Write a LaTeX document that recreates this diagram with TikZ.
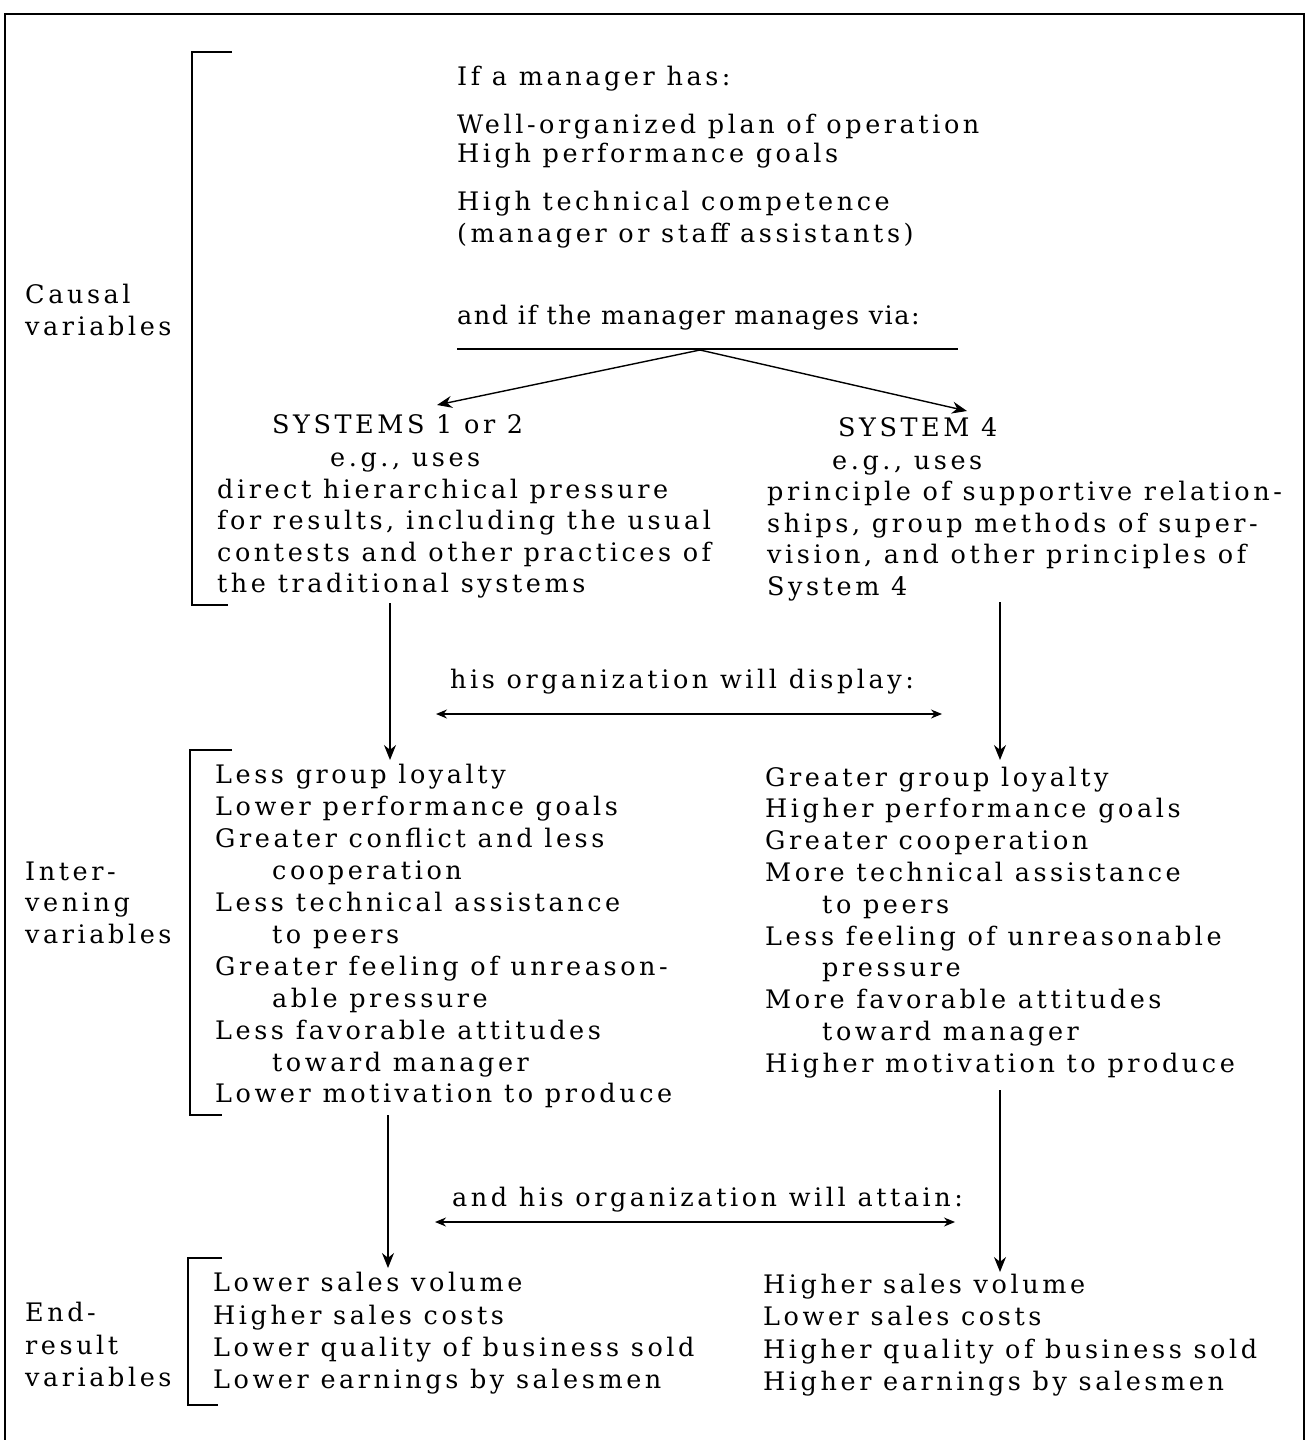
\documentclass[tikz,border=0pt]{standalone}
\usepackage{fontspec}
\setmainfont[LetterSpace=14]{DejaVu Serif}
\usetikzlibrary{arrows.meta}
\begin{document}
\begin{tikzpicture}[x=1pt,y=-1pt,
  txt/.style={anchor=base west,inner sep=0pt,font=\fontsize{25.5}{30}\selectfont},
  frame/.style={line width=1.8pt},
  brk/.style={line width=2pt},
  conn/.style={line width=1.4pt,-{Stealth[length=15pt,width=12pt]}},
  dbl/.style={line width=1.2pt,{Stealth[length=11pt,width=9pt]}-{Stealth[length=11pt,width=9pt]}}]
\useasboundingbox (0,0) rectangle (1309,1440);
% frame
\draw[frame] (5,1440) -- (5,14) -- (1304,14) -- (1304,1440);
% brackets
\draw[brk] (232,52) -- (192,52) -- (192,605) -- (228,605);
\draw[brk] (232,750) -- (190,750) -- (190,1115) -- (222,1115);
\draw[brk] (222,1258) -- (188,1258) -- (188,1405) -- (218,1405);
% labels
\node[txt] (lc1) at (25,303) {Causal};
\node[txt] (lc2) at (25,335) {variables};
\node[txt] (li1) at (25,880) {Inter-};
\node[txt] (li2) at (25,911) {vening};
\node[txt] (li3) at (25,943) {variables};
\node[txt] (le1) at (25,1321) {End-};
\node[txt] (le2) at (25,1354) {result};
\node[txt] (le3) at (25,1386) {variables};
% top block
\node[txt] (t1) at (457,85) {If a manager has:};
\node[txt] (t2) at (457,133) {Well-organized plan of operation};
\node[txt] (t3) at (457,162) {High performance goals};
\node[txt] (t4) at (457,210) {High technical competence};
\node[txt] (t5) at (457,242) {(manager or staff assistants)};
\node[txt] (t6) at (457,324) {\addfontfeature{LetterSpace=6}and if the manager manages via:};
\coordinate (la) at (457,349);
\coordinate (lb) at (958,349);
\coordinate (lc) at (700,350);
\draw[line width=1.3pt] (la) -- (lb);
% systems headers
\node[txt] (s12) at (272,433) {SYSTEMS 1 or 2};
\node[txt] (s12e) at (330,466) {e.g., uses};
\node[txt] (s12a) at (217,498) {direct hierarchical pressure};
\node[txt] (s12b) at (217,529) {for results, including the usual};
\node[txt] (s12c) at (217,561) {contests and other practices of};
\node[txt] (s12d) at (217,592) {the traditional systems};
\node[txt] (s4) at (838,436) {SYSTEM 4};
\node[txt] (s4e) at (832,469) {e.g., uses};
\node[txt] (s4a) at (767,500) {principle of supportive relation-};
\node[txt] (s4b) at (767,532) {ships, group methods of super-};
\node[txt] (s4c) at (767,563) {vision, and other principles of};
\node[txt] (s4d) at (767,595) {System 4};
\coordinate (aL) at (437,405);
\coordinate (aR) at (967,411);
\draw[conn] (lc) -- (aL);
\draw[conn] (lc) -- (aR);
% display
\node[txt] (disp) at (450,688) {his organization will display:};
\coordinate (d1) at (436,714);
\coordinate (d2) at (942,714);
\draw[dbl] (d1) -- (d2);
\coordinate (v1a) at (390,603);
\coordinate (v1b) at (390,760);
\coordinate (v2a) at (1000,602);
\coordinate (v2b) at (1000,760);
\draw[conn] (v1a) -- (v1b);
\draw[conn] (v2a) -- (v2b);
% intervening left
\node[txt] (il1) at (215,783) {Less group loyalty};
\node[txt] (il2) at (215,815) {Lower performance goals};
\node[txt] (il3) at (215,847) {Greater conflict and less};
\node[txt] (il4) at (272,879) {cooperation};
\node[txt] (il5) at (215,911) {Less technical assistance};
\node[txt] (il6) at (272,943) {to peers};
\node[txt] (il7) at (215,975) {Greater feeling of unreason-};
\node[txt] (il8) at (272,1007) {able pressure};
\node[txt] (il9) at (215,1039) {Less favorable attitudes};
\node[txt] (il10) at (272,1071) {toward manager};
\node[txt] (il11) at (215,1102) {Lower motivation to produce};
% intervening right
\node[txt] (ir1) at (765,786) {Greater group loyalty};
\node[txt] (ir2) at (765,817) {Higher performance goals};
\node[txt] (ir3) at (765,849) {Greater cooperation};
\node[txt] (ir4) at (765,881) {More technical assistance};
\node[txt] (ir5) at (822,913) {to peers};
\node[txt] (ir6) at (765,945) {Less feeling of unreasonable};
\node[txt] (ir7) at (822,976) {pressure};
\node[txt] (ir8) at (765,1008) {More favorable attitudes};
\node[txt] (ir9) at (822,1040) {toward manager};
\node[txt] (ir10) at (765,1072) {Higher motivation to produce};
% attain
\coordinate (w1a) at (388,1115);
\coordinate (w1b) at (388,1268);
\coordinate (w2a) at (1000,1090);
\coordinate (w2b) at (1000,1272);
\draw[conn] (w1a) -- (w1b);
\draw[conn] (w2a) -- (w2b);
\node[txt] (att) at (452,1206) {and his organization will attain:};
\coordinate (e1) at (435,1222);
\coordinate (e2) at (955,1222);
\draw[dbl] (e1) -- (e2);
% end results
\node[txt] (el1) at (213,1291) {Lower sales volume};
\node[txt] (el2) at (213,1324) {Higher sales costs};
\node[txt] (el3) at (213,1356) {Lower quality of business sold};
\node[txt] (el4) at (213,1388) {Lower earnings by salesmen};
\node[txt] (er1) at (763,1293) {Higher sales volume};
\node[txt] (er2) at (763,1325) {Lower sales costs};
\node[txt] (er3) at (763,1358) {Higher quality of business sold};
\node[txt] (er4) at (763,1390) {Higher earnings by salesmen};
\end{tikzpicture}
\end{document}
